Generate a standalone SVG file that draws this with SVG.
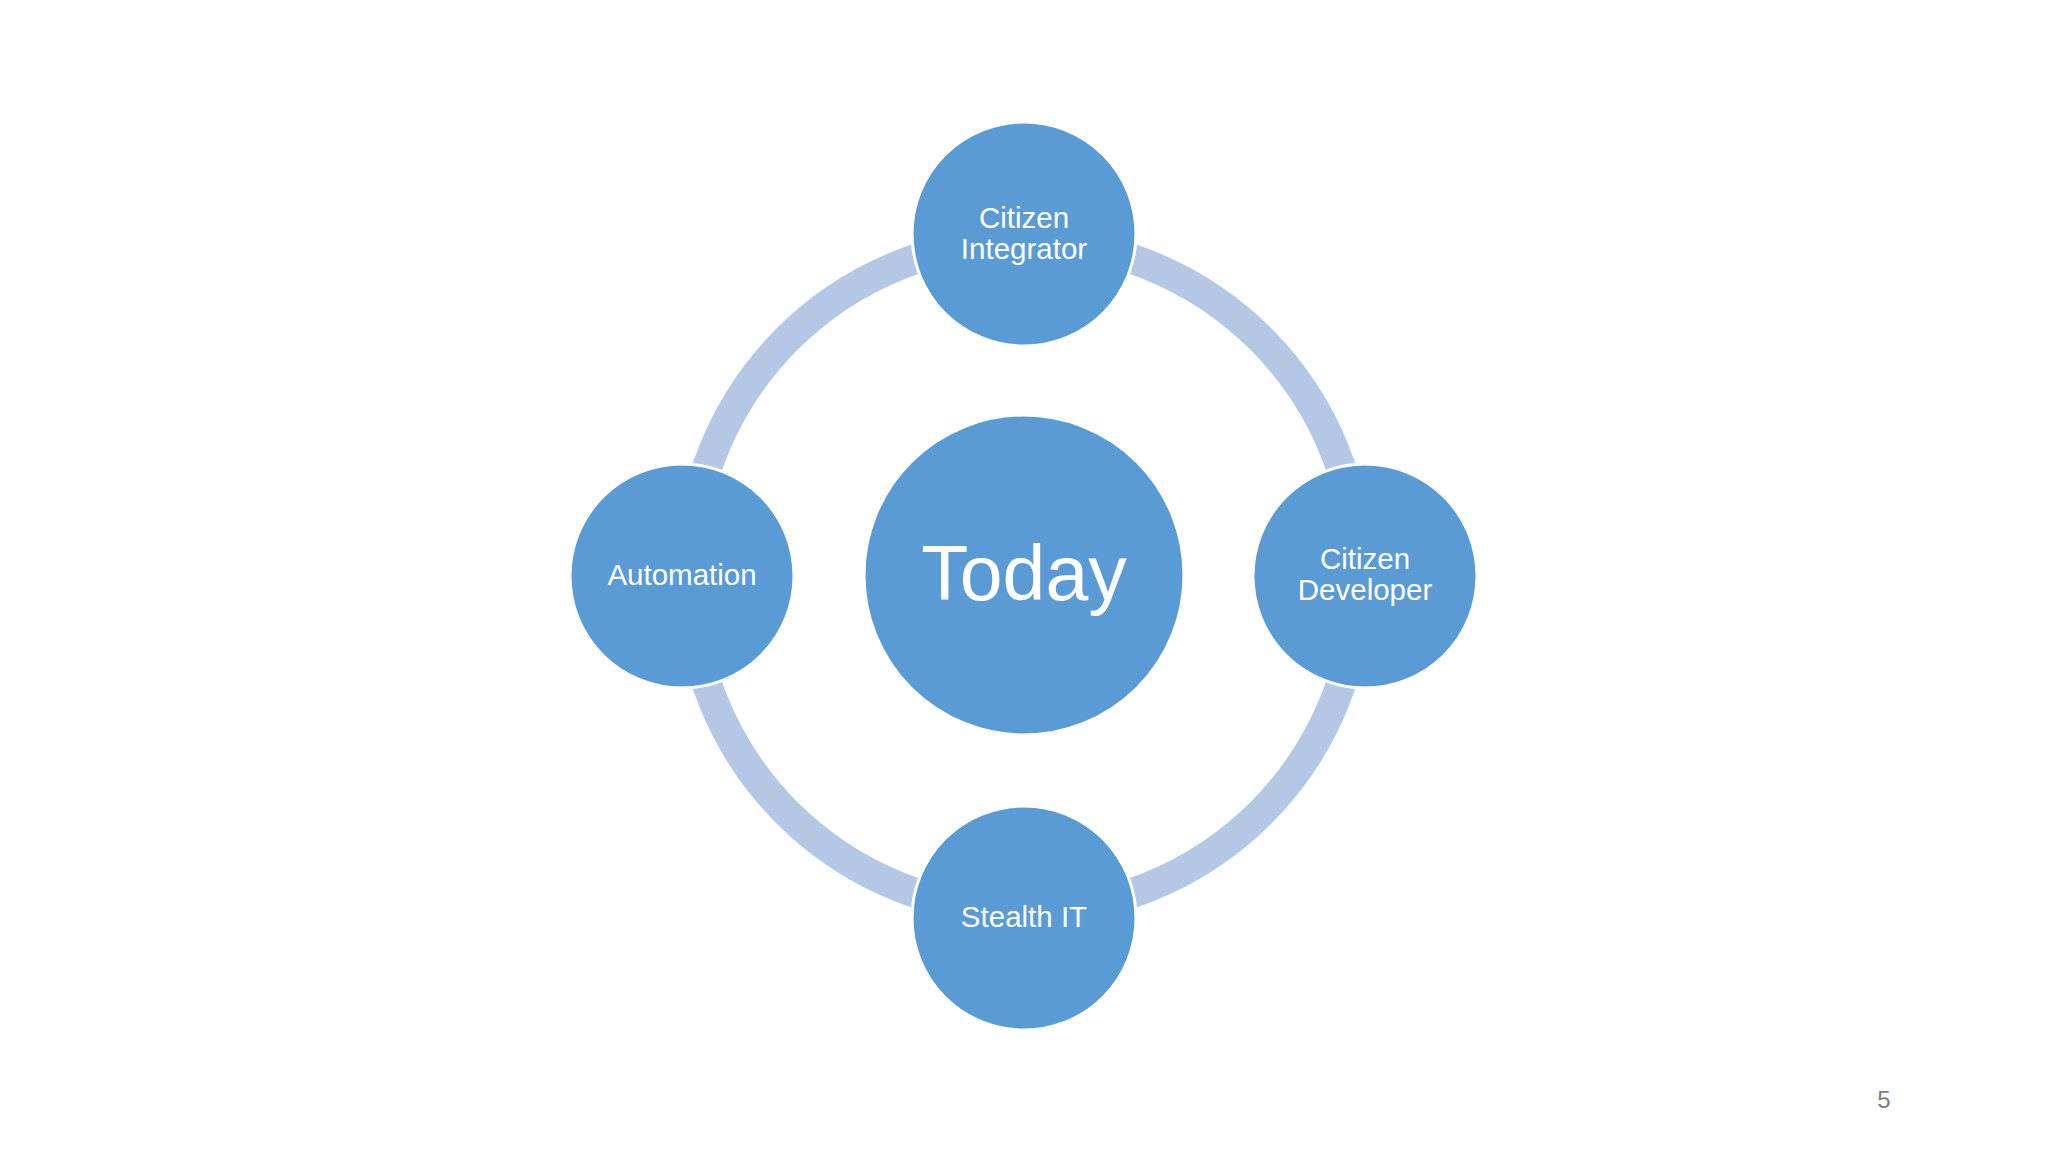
<svg xmlns="http://www.w3.org/2000/svg" width="2048" height="1152" viewBox="0 0 2048 1152">
<style>
.node{fill:#5b9bd5;stroke:#ffffff;stroke-width:3}
.lbl{font-family:"Liberation Sans",Arial,sans-serif;fill:#ffffff;text-anchor:middle;font-size:29.5px}
.big{font-size:77px}
.pg{font-family:"Liberation Sans",Arial,sans-serif;fill:#7f7f7f;font-size:24px;text-anchor:middle}
</style>
<rect width="2048" height="1152" fill="#ffffff"/>
<g id="connectors">
<circle cx="1024" cy="576" r="335" fill="none" stroke="#b4c8e6" stroke-width="30"/>
</g>
<g id="node-today">
<circle class="node" cx="1024" cy="575" r="160"/>
<text class="lbl big" x="1024" y="600">Today</text>
</g>
<g id="node-citizen-integrator">
<circle class="node" cx="1024" cy="234" r="112"/>
<text class="lbl" x="1024" y="228">Citizen</text>
<text class="lbl" x="1024" y="259">Integrator</text>
</g>
<g id="node-citizen-developer">
<circle class="node" cx="1365" cy="576" r="112"/>
<text class="lbl" x="1365" y="569">Citizen</text>
<text class="lbl" x="1365" y="600">Developer</text>
</g>
<g id="node-stealth-it">
<circle class="node" cx="1024" cy="918" r="112"/>
<text class="lbl" x="1024" y="927">Stealth IT</text>
</g>
<g id="node-automation">
<circle class="node" cx="682" cy="576" r="112"/>
<text class="lbl" x="682" y="585">Automation</text>
</g>
<text class="pg" x="1884" y="1108">5</text>
</svg>
